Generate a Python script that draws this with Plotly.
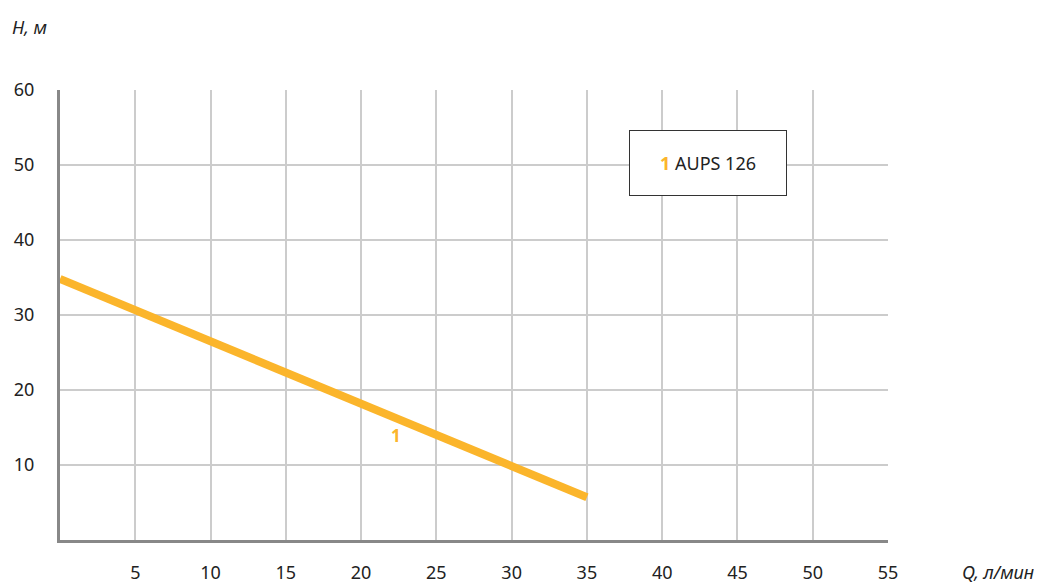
import plotly.graph_objects as go

# Data
q_values = [0, 35]          # Q, л/мин
h_values = [34.8, 5.7]      # H, м
series_name = "AUPS 126"
curve_label = "1"
label_pos = (22.3, 13.9)

x_grid = [5, 10, 15, 20, 25, 30, 35, 40, 45, 50]
x_ticks = [5, 10, 15, 20, 25, 30, 35, 40, 45, 50, 55]
y_grid = [10, 20, 30, 40, 50]
y_ticks = [10, 20, 30, 40, 50, 60]

ORANGE = "#FBB52B"
FONT = "Noto Sans"
TEXT = "#222222"

fig = go.Figure()
fig.add_trace(go.Scatter(x=q_values, y=h_values, mode="lines",
                         line=dict(color=ORANGE, width=8),
                         name=series_name, showlegend=False, hoverinfo="skip"))
# invisible trace to activate secondary axes for tick labels
fig.add_trace(go.Scatter(x=[0], y=[0], xaxis="x2", yaxis="y2", mode="markers",
                         marker=dict(opacity=0), showlegend=False, hoverinfo="skip"))

# page body has an 8px margin, so figure is offset by 8px
fig.update_layout(
    width=1034, height=576,
    margin=dict(l=52, r=154, t=82, b=44, autoexpand=False),
    paper_bgcolor="white", plot_bgcolor="white",
    font=dict(family=FONT, size=18, color=TEXT),
    xaxis=dict(range=[0, 55], tickvals=x_grid, showticklabels=False,
               showgrid=True, gridcolor="#CCCCCC", gridwidth=1.5,
               zeroline=False, showline=True, linecolor="#888888", linewidth=3),
    yaxis=dict(range=[0, 60], tickvals=y_grid, showticklabels=False,
               showgrid=True, gridcolor="#CCCCCC", gridwidth=1.5,
               zeroline=False, showline=True, linecolor="#888888", linewidth=3),
    xaxis2=dict(range=[0, 55], overlaying="x", anchor="y", side="bottom",
                tickvals=x_ticks, ticktext=[str(v) for v in x_ticks],
                showgrid=False, zeroline=False, showline=False,
                ticks="outside", ticklen=0, ticklabelstandoff=16,
                tickfont=dict(family=FONT, size=18, color=TEXT)),
    yaxis2=dict(range=[0, 60], overlaying="y", anchor="x", side="left",
                tickvals=y_ticks, ticktext=[str(v) for v in y_ticks],
                showgrid=False, zeroline=False, showline=False,
                ticks="outside", ticklen=0, ticklabelstandoff=21,
                tickfont=dict(family=FONT, size=18, color=TEXT)),
)

fig.add_annotation(x=label_pos[0], y=label_pos[1], text=f"<b>{curve_label}</b>",
                   showarrow=False, font=dict(family=FONT, size=17, color=ORANGE))

fig.add_annotation(x=43.05, y=50.3, xref="x", yref="y",
                   text=f"<b><span style='color:{ORANGE}'>{curve_label}</span></b> {series_name}",
                   showarrow=False, width=152, height=60, borderpad=2,
                   bordercolor="#333333", borderwidth=1, bgcolor="white",
                   font=dict(family=FONT, size=18, color=TEXT))

fig.add_annotation(x=-0.0605, y=1.140, xref="paper", yref="paper",
                   text="<i>H, м</i>", showarrow=False, xanchor="left", yanchor="middle",
                   font=dict(family=FONT, size=18, color=TEXT))
fig.add_annotation(x=1.087, y=-0.071, xref="paper", yref="paper",
                   text="<i>Q, л/мин</i>", showarrow=False, xanchor="left", yanchor="middle",
                   font=dict(family=FONT, size=18, color=TEXT))

fig.write_html("out.html")
